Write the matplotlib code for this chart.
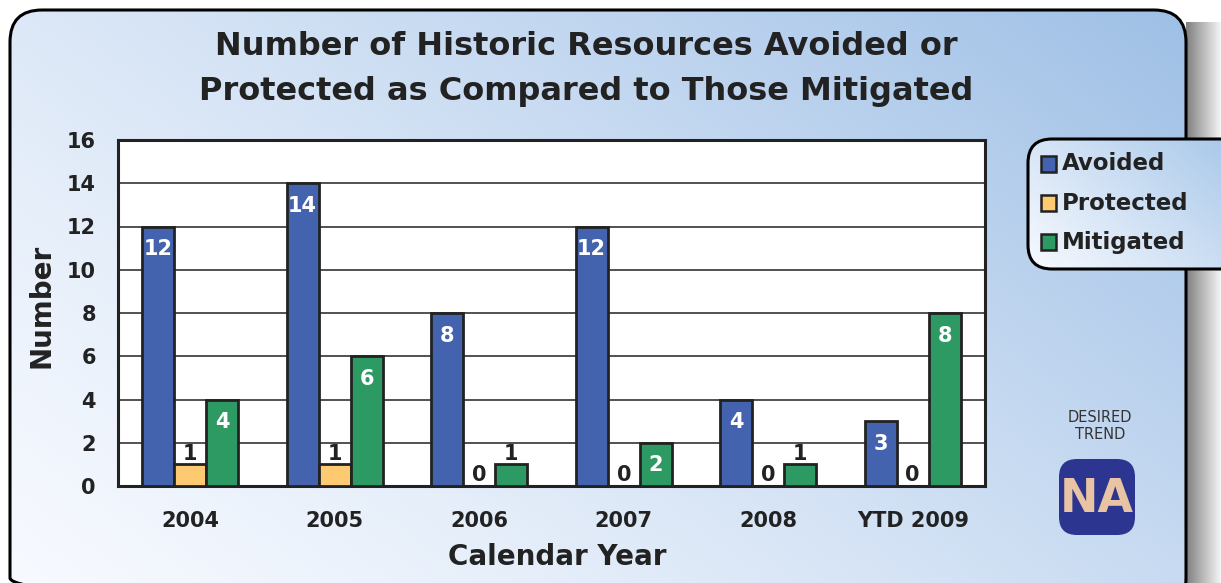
import matplotlib
matplotlib.use("Agg")
import matplotlib.pyplot as plt
import numpy as np
from matplotlib.patches import FancyBboxPatch, Rectangle

categories = ["2004", "2005", "2006", "2007", "2008", "YTD 2009"]
avoided = [12, 14, 8, 12, 4, 3]
protected = [1, 1, 0, 0, 0, 0]
mitigated = [4, 6, 1, 2, 1, 8]
series_names = ["Avoided", "Protected", "Mitigated"]
colors = ["#4463ae", "#fdca72", "#2e9a63"]
yticks = [0, 2, 4, 6, 8, 10, 12, 14, 16]

FONT = ["DejaVu Sans"]
plt.rcParams['font.family'] = FONT

W, H = 1221, 583
fig = plt.figure(figsize=(W / 100, H / 100), dpi=100)
fig.patch.set_facecolor("white")

bg = fig.add_axes([0, 0, 1, 1])
bg.set_xlim(0, W)
bg.set_ylim(H, 0)
bg.axis("off")

# shadow on right
shadow = np.tile(np.linspace(0.5, 1.0, 60), (10, 1))
bg.imshow(shadow, cmap="gray", vmin=0, vmax=1, extent=(1186, 1224, H + 5, 22),
          aspect="auto", zorder=0, interpolation="bilinear")

# gradient box
yy, xx = np.mgrid[0:1:200j, 0:1:400j]
t = np.clip(0.75 * xx + 0.5 * (1 - yy), 0, 1.25) / 1.25
t = t ** 1.3
c0 = np.array([0.97, 0.98, 1.0])
c1 = np.array([0.62, 0.75, 0.90])
img = c0[None, None, :] * (1 - t[..., None]) + c1[None, None, :] * t[..., None]
box = FancyBboxPatch((10, 10), 1176, 600, boxstyle="round,pad=0,rounding_size=32",
                     facecolor="none", edgecolor="black", linewidth=2.2, zorder=2)
bg.add_patch(box)
im = bg.imshow(img, extent=(10, 1186, 610, 10), aspect="auto", zorder=1,
               interpolation="bilinear")
im.set_clip_path(box)

# legend box
lyy, lxx = np.mgrid[0:1:50j, 0:1:100j]
lt = np.clip(0.8 * lxx + 0.5 * (1 - lyy), 0, 1.3) / 1.3
limg = np.array([0.97, 0.98, 1.0])[None, None, :] * (1 - lt[..., None]) + \
       np.array([0.64, 0.77, 0.91])[None, None, :] * lt[..., None]
lbox = FancyBboxPatch((1028, 139), 230, 130, boxstyle="round,pad=0,rounding_size=24",
                      facecolor="none", edgecolor="black", linewidth=2.2, zorder=4)
bg.add_patch(lbox)
lim = bg.imshow(limg, extent=(1028, 1258, 269, 139), aspect="auto", zorder=3,
                interpolation="bilinear")
lim.set_clip_path(lbox)

for i, (name, col) in enumerate(zip(series_names, colors)):
    y = 164 + i * 39
    bg.add_patch(Rectangle((1041, y - 8), 15, 16, facecolor=col, edgecolor="#222222",
                           linewidth=1.8, zorder=5))
    bg.text(1062, y, name, fontsize=16.5, fontweight="bold", color="#222222",
            va="center", ha="left", zorder=5)

# Desired trend
bg.text(1100, 426, "DESIRED\nTREND", fontsize=10.5, color="#333333", ha="center",
        va="center", linespacing=1.1, zorder=5)
na = FancyBboxPatch((1059, 459), 76, 76, boxstyle="round,pad=0,rounding_size=18",
                    facecolor="#2c3590", edgecolor="none", zorder=5)
bg.add_patch(na)
bg.text(1097, 499, "NA", fontsize=33, fontweight="bold", color="#e8c4a4",
        ha="center", va="center", zorder=6)

# title and labels
bg.text(586, 69, "Number of Historic Resources Avoided or\nProtected as Compared to Those Mitigated",
        fontsize=23, fontweight="bold", color="#222222", ha="center", va="center",
        linespacing=1.62, zorder=5)
bg.text(42, 306, "Number", fontsize=20, fontweight="bold", color="#222222", rotation=90,
        ha="center", va="center", zorder=5)
bg.text(557, 557, "Calendar Year", fontsize=20, fontweight="bold", color="#222222",
        ha="center", va="center", zorder=5)

# main chart axes
ax = fig.add_axes([118 / W, 1 - 486 / H, (985 - 118) / W, (486 - 140) / H])
ax.set_facecolor("white")
ax.set_zorder(5)
x = np.arange(len(categories))
bw = 0.222
for k, (vals, col) in enumerate(zip([avoided, protected, mitigated], colors)):
    pos = x + (k - 1) * bw
    ax.bar(pos, vals, width=bw, color=col, edgecolor="#222222", linewidth=2, zorder=3)
    for p, v in zip(pos, vals):
        if v >= 2:
            ax.text(p, v - 1.05, str(v), ha="center", va="center", color="white",
                    fontsize=15, fontweight="bold", zorder=4)
        else:
            ax.text(p, v + 0.5, str(v), ha="center", va="center", color="#222222",
                    fontsize=15, fontweight="bold", zorder=4)

ax.set_xlim(-0.5, len(categories) - 0.5)
ax.set_ylim(0, 16)
ax.set_yticks(yticks)
ax.set_yticklabels([str(v) for v in yticks], fontsize=15, fontweight="bold", color="#222222")
ax.set_xticks(x)
ax.set_xticklabels(categories, fontsize=15, fontweight="bold", color="#222222")
ax.tick_params(axis="y", length=0, pad=16)
ax.tick_params(axis="x", length=0, pad=18)
ax.grid(axis="y", color="#333333", linewidth=1.2, zorder=0)
ax.set_axisbelow(True)
for s in ax.spines.values():
    s.set_linewidth(2.2)
    s.set_color("#222222")

fig.savefig("out.png", dpi=100)
